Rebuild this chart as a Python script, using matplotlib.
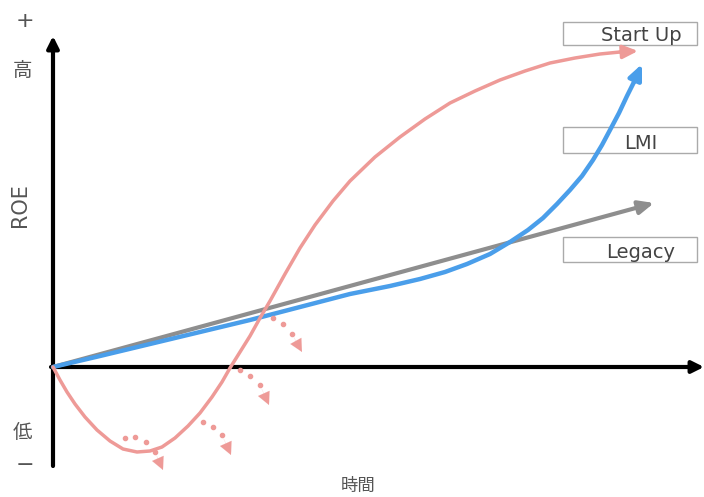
import matplotlib.pyplot as plt

plt.rcParams['font.family'] = ['Noto Sans CJK JP', 'DejaVu Sans']

# curve points (x right, y down, in picture pixels)
startup_x = [53, 60, 67, 75, 85, 97, 110, 123, 137, 150, 162, 175, 188, 200, 212, 222, 230, 240, 250, 260, 270, 285, 300, 315, 333, 350,
             375, 400, 425, 450, 475, 500, 525, 550, 575, 600, 620, 638]
startup_y = [367, 380, 392, 404, 417, 430, 441, 449, 452, 451, 447, 438, 426, 413, 397, 382, 368, 352, 336, 318, 301, 274, 248, 225, 201, 181,
             157, 137, 119, 103, 91, 80, 71, 63, 58, 54, 52, 51]

lmi_x = [53, 100, 150, 200, 250, 300, 350, 390, 420, 445, 467, 490, 510, 528, 543, 557, 570, 582, 593, 602, 610, 619, 627, 634, 642]
lmi_y = [367, 356, 344, 332, 320, 307, 294, 286, 279, 272, 264, 254, 242, 230, 218, 204, 190, 176, 160, 145, 130, 113, 96, 82, 64]

legacy_x = [53, 654]
legacy_y = [367, 203]

labels = ['Start Up', 'LMI', 'Legacy']
box_top = [22, 127, 237]
box_bottom = [45, 153, 262]

# dotted "drop-off" arrows along the start-up curve
drops = [
    ([125, 135, 146, 155], [438, 437, 442, 452], (163, 470)),
    ([203, 213, 222], [422, 427, 435], (231, 455)),
    ([240, 250, 260], [370, 376, 385], (269, 405)),
    ([273, 283, 292], [318, 324, 334], (302, 352)),
]

red = '#EE9A97'
blue = '#4A9EEA'
grey = '#8E8E8E'
txt = '#555555'

fig = plt.figure(figsize=(7.04, 4.97), dpi=100)
ax = fig.add_axes([0, 0, 1, 1])
ax.set_xlim(0, 704)
ax.set_ylim(497, 0)
ax.axis('off')

# axes
ax.annotate('', xy=(53, 36), xytext=(53, 466),
            arrowprops=dict(arrowstyle='-|>,head_length=0.7,head_width=0.35', color='black', lw=3, shrinkA=0, shrinkB=0))
ax.annotate('', xy=(704, 367), xytext=(51, 367),
            arrowprops=dict(arrowstyle='-|>,head_length=0.7,head_width=0.35', color='black', lw=3, shrinkA=0, shrinkB=0))


def curve(xs, ys, color, lw):
    ax.plot(xs[:-1], ys[:-1], color=color, lw=lw, solid_capstyle='round', solid_joinstyle='round', zorder=3)
    ax.annotate('', xy=(xs[-1], ys[-1]), xytext=(xs[-2], ys[-2]),
                arrowprops=dict(arrowstyle='-|>,head_length=0.9,head_width=0.4', color=color, lw=lw, shrinkA=0, shrinkB=0),
                zorder=3)


curve(legacy_x, legacy_y, grey, 3)
curve(lmi_x, lmi_y, blue, 3.2)
curve(startup_x, startup_y, red, 2.5)

for xs, ys, tip in drops:
    ax.plot(xs, ys, color=red, lw=0, marker='o', ms=3, zorder=4)
    ax.annotate('', xy=tip, xytext=(xs[-1], ys[-1]),
                arrowprops=dict(arrowstyle='-|>,head_length=0.9,head_width=0.45', color=red, lw=0.1, shrinkA=3, shrinkB=0),
                zorder=4)

for name, top, bottom in zip(labels, box_top, box_bottom):
    box = plt.Rectangle((563, top), 134, bottom - top, fc='white', ec='#AAAAAA', lw=1, zorder=2)
    ax.add_patch(box)
    t = ax.text(641, bottom - 4, name, ha='center', va='baseline', fontsize=14, color='#444444',
                family=['DejaVu Sans'], zorder=5)
    t.set_clip_path(box)

ax.text(25, 21, '+', ha='center', va='center', fontsize=16, color=txt, family=['DejaVu Sans'])
ax.text(22, 70, '高', ha='center', va='center', fontsize=14, color=txt)
ax.text(20, 205, 'ROE', ha='center', va='center', fontsize=15, color=txt, rotation=90, family=['DejaVu Sans'])
ax.text(22, 433, '低', ha='center', va='center', fontsize=14, color=txt)
ax.text(25, 465, '−', ha='center', va='center', fontsize=16, color=txt, family=['DejaVu Sans'])
ax.text(358, 486, '時間', ha='center', va='center', fontsize=12.5, color=txt)

fig.savefig('out.png', dpi=100)
